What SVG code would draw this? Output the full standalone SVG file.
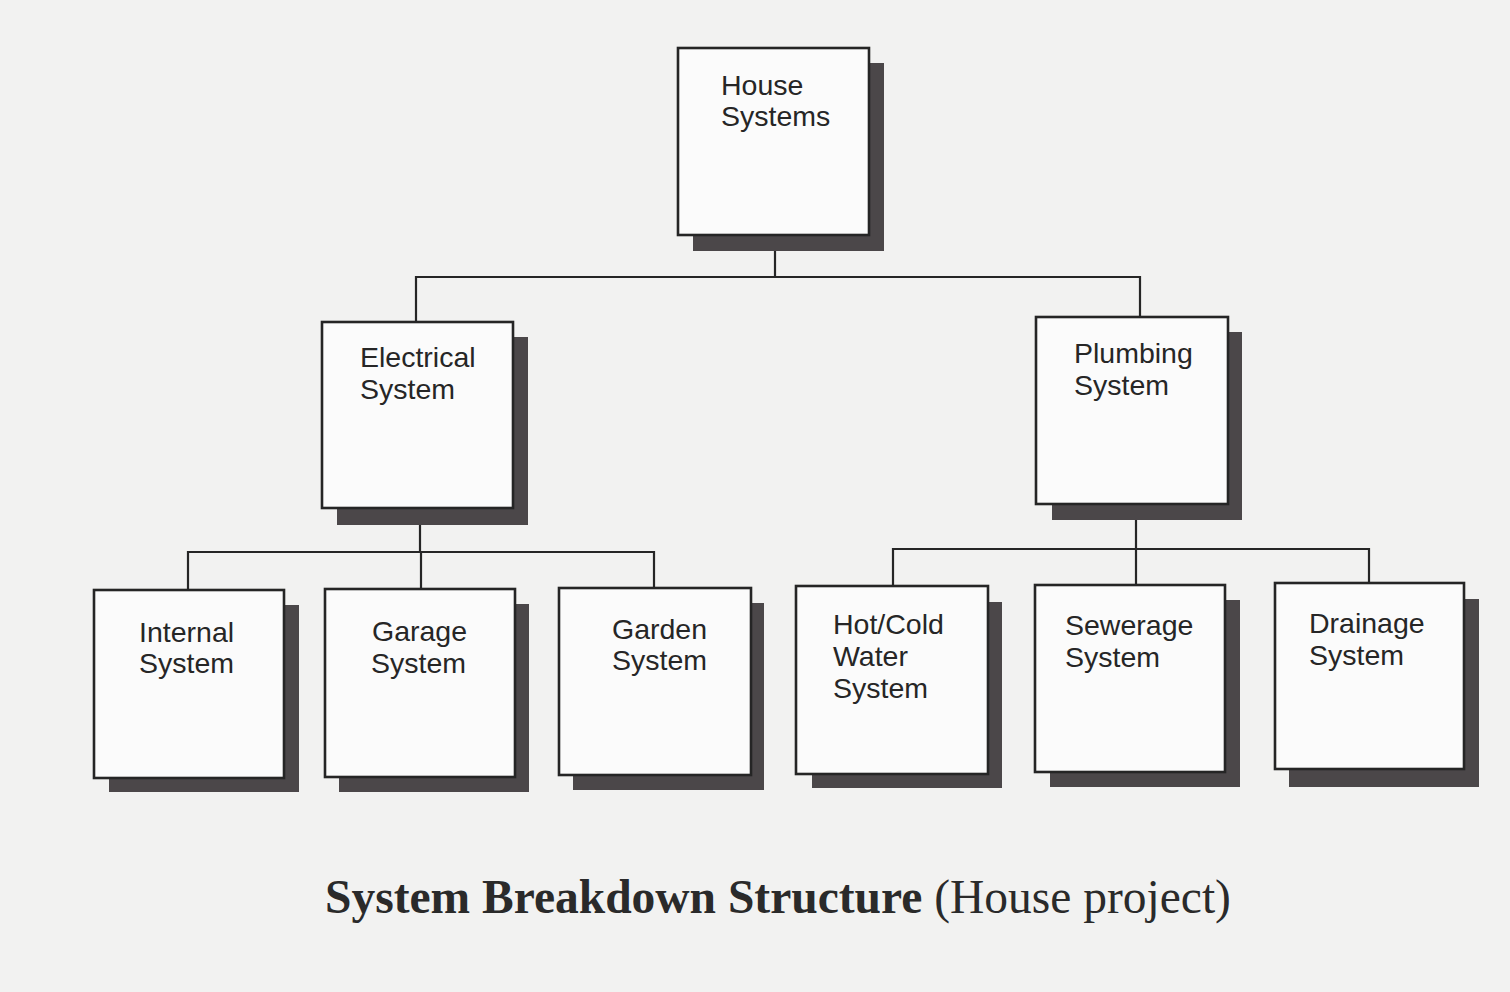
<svg xmlns="http://www.w3.org/2000/svg" width="1510" height="992" viewBox="0 0 1510 992">
<style>
.shadow{fill:#4b4749;}
.box{fill:#fbfbfb;stroke:#252525;stroke-width:2.6;}
.lbl{font-family:"Liberation Sans",Arial,sans-serif;font-size:28.5px;fill:#262626;}
.conn{fill:none;stroke:#262626;stroke-width:2.2;}
.cap{font-family:"Liberation Serif","Times New Roman",serif;font-size:47.5px;fill:#2a2a2a;}
</style>
<rect x="0" y="0" width="1510" height="992" fill="#f2f2f1"/>
<g id="connectors">
<path class="conn" d="M775,251 V277 M416,321 V277 H1140 V317"/>
<path class="conn" d="M420,525 V552 M188,590 V552 H654 V588 M421,552 V589"/>
<path class="conn" d="M1136,519 V549 M893,586 V549 H1369 V583 M1136,549 V585"/>
</g>
<g id="house-systems">
<rect class="shadow" x="693" y="63" width="191" height="188"/>
<rect class="box" x="678" y="48" width="191" height="187"/>
<text class="lbl" x="721" y="95">House</text>
<text class="lbl" x="721" y="126">Systems</text>
</g>
<g id="electrical-system">
<rect class="shadow" x="337" y="337" width="191" height="188"/>
<rect class="box" x="322" y="322" width="191" height="186"/>
<text class="lbl" x="360" y="367">Electrical</text>
<text class="lbl" x="360" y="399">System</text>
</g>
<g id="plumbing-system">
<rect class="shadow" x="1052" y="332" width="190" height="188"/>
<rect class="box" x="1036" y="317" width="192" height="187"/>
<text class="lbl" x="1074" y="363">Plumbing</text>
<text class="lbl" x="1074" y="395">System</text>
</g>
<g id="internal-system">
<rect class="shadow" x="109" y="605" width="190" height="187"/>
<rect class="box" x="94" y="590" width="190" height="188"/>
<text class="lbl" x="139" y="642">Internal</text>
<text class="lbl" x="139" y="673">System</text>
</g>
<g id="garage-system">
<rect class="shadow" x="339" y="604" width="190" height="188"/>
<rect class="box" x="325" y="589" width="190" height="188"/>
<text class="lbl" x="372" y="641">Garage</text>
<text class="lbl" x="371" y="673">System</text>
</g>
<g id="garden-system">
<rect class="shadow" x="573" y="603" width="191" height="187"/>
<rect class="box" x="559" y="588" width="192" height="187"/>
<text class="lbl" x="612" y="639">Garden</text>
<text class="lbl" x="612" y="670">System</text>
</g>
<g id="hotcold-water-system">
<rect class="shadow" x="812" y="602" width="190" height="186"/>
<rect class="box" x="796" y="586" width="192" height="188"/>
<text class="lbl" x="833" y="634">Hot/Cold</text>
<text class="lbl" x="833" y="666">Water</text>
<text class="lbl" x="833" y="698">System</text>
</g>
<g id="sewerage-system">
<rect class="shadow" x="1050" y="600" width="190" height="187"/>
<rect class="box" x="1035" y="585" width="190" height="187"/>
<text class="lbl" x="1065" y="635">Sewerage</text>
<text class="lbl" x="1065" y="667">System</text>
</g>
<g id="drainage-system">
<rect class="shadow" x="1289" y="599" width="190" height="188"/>
<rect class="box" x="1275" y="583" width="189" height="186"/>
<text class="lbl" x="1309" y="633">Drainage</text>
<text class="lbl" x="1309" y="665">System</text>
</g>
<text class="cap" x="325" y="913"><tspan font-weight="bold">System Breakdown Structure</tspan> (House project)</text>
</svg>
